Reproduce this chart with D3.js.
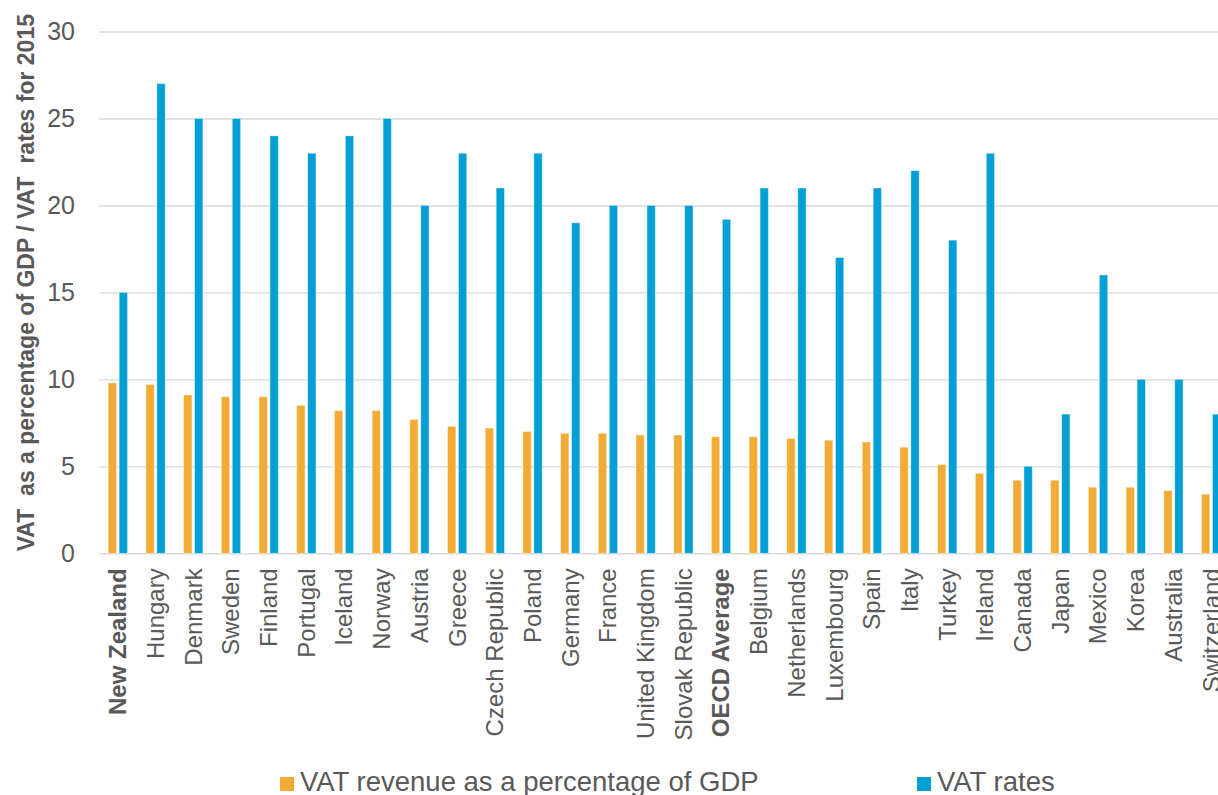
<!DOCTYPE html>
<html>
<head>
<meta charset="utf-8">
<script src="https://cdn.jsdelivr.net/npm/d3@7"></script>
<style>
  body { margin: 0; background: #fff; }
  text { font-family: Arial, "Liberation Sans", sans-serif; fill: #595959; }
</style>
</head>
<body>
<svg width="1218" height="795"></svg>
<script>
const countries = ['New Zealand', 'Hungary', 'Denmark', 'Sweden', 'Finland', 'Portugal', 'Iceland',
    'Norway', 'Austria', 'Greece', 'Czech Republic', 'Poland', 'Germany', 'France', 'United Kingdom',
    'Slovak Republic', 'OECD Average', 'Belgium', 'Netherlands', 'Luxembourg', 'Spain', 'Italy',
    'Turkey', 'Ireland', 'Canada', 'Japan', 'Mexico', 'Korea', 'Australia', 'Switzerland'];
const vatRevenue = [9.8, 9.7, 9.1, 9.0, 9.0, 8.5, 8.2, 8.2, 7.7, 7.3, 7.2, 7.0, 6.9, 6.9, 6.8,
    6.8, 6.7, 6.7, 6.6, 6.5, 6.4, 6.1, 5.1, 4.6, 4.2, 4.2, 3.8, 3.8, 3.6, 3.4];
const vatRates = [15, 27, 25, 25, 24, 23, 24, 25, 20, 23, 21, 23, 19, 20, 20,
    20, 19.2, 21, 21, 17, 21, 22, 18, 23, 5, 8, 16, 10, 10, 8];
const boldLabels = ['New Zealand', 'OECD Average'];
const yTicks = [0, 5, 10, 15, 20, 25, 30];
const seriesKeys = ['revenue', 'rate'];
const seriesNames = ['VAT revenue as a percentage of GDP', 'VAT rates'];
const colors = ['#F2AC36', '#00A0D6'];

const svg = d3.select('svg');
const width = +svg.attr('width');

const plotLeft = 99;
const plotRight = 1230; // the chart is cropped on the right edge
const plotTop = 31.5;
const plotBottom = 553.3;

const data = countries.map((c, i) => ({ country: c, revenue: vatRevenue[i], rate: vatRates[i] }));

const x0 = d3.scaleBand()
    .domain(countries)
    .range([plotLeft, plotRight])
    .paddingInner(0.49)
    .paddingOuter(0.245);

const x1 = d3.scaleBand()
    .domain(seriesKeys)
    .range([0, x0.bandwidth()])
    .paddingInner(0.245);

const y = d3.scaleLinear()
    .domain([0, 30])
    .range([plotBottom, plotTop]);

const color = d3.scaleOrdinal().domain(seriesKeys).range(colors);

// gridlines
const yAxis = d3.axisLeft(y)
    .tickValues(yTicks)
    .tickSize(-(width - plotLeft))
    .tickPadding(24);

const yAxisG = svg.append('g')
    .attr('transform', `translate(${plotLeft}, 0)`)
    .call(yAxis);
yAxisG.select('.domain').remove();
yAxisG.selectAll('.tick line')
    .attr('stroke', '#d9d9d9')
    .attr('stroke-width', 1.4);
yAxisG.selectAll('.tick text')
    .attr('font-size', 25)
    .attr('fill', '#595959')
    .style('font-family', 'Arial, "Liberation Sans", sans-serif');

// bars
const groups = svg.append('g')
    .selectAll('g')
    .data(data)
    .join('g')
    .attr('transform', (d) => `translate(${x0(d.country)}, 0)`);

groups.selectAll('rect')
    .data((d) => seriesKeys.map((k) => ({ key: k, value: d[k] })))
    .join('rect')
    .attr('x', (d) => x1(d.key))
    .attr('y', (d) => y(d.value))
    .attr('width', x1.bandwidth())
    .attr('height', (d) => y(0) - y(d.value))
    .attr('fill', (d) => color(d.key))
    .attr('stroke', '#ffffff')
    .attr('stroke-opacity', 0.45)
    .attr('stroke-width', 0.8);

// x axis labels
const xAxis = d3.axisBottom(x0).tickSize(0).tickPadding(0);
const xAxisG = svg.append('g')
    .attr('transform', `translate(0, ${plotBottom})`)
    .call(xAxis);
xAxisG.select('.domain').remove();
xAxisG.selectAll('.tick text')
    .attr('transform', 'translate(0, 15) rotate(-90)')
    .attr('x', 0)
    .attr('y', 0)
    .attr('dy', '0.35em')
    .style('text-anchor', 'end')
    .style('font-family', 'Arial, "Liberation Sans", sans-serif')
    .attr('font-size', 24)
    .attr('fill', '#595959')
    .attr('font-weight', (d) => boldLabels.includes(d) ? 'bold' : 'normal');

// y axis title
svg.append('text')
    .attr('transform', 'translate(34, 14) rotate(-90)')
    .style('text-anchor', 'end')
    .style('white-space', 'pre')
    .attr('font-size', 23)
    .attr('font-weight', 'bold')
    .text('VAT  as a percentage of GDP / VAT  rates for 2015');

// legend (cut at the bottom edge, as in the original)
const legendX = [280, 917];
const legend = svg.append('g')
    .selectAll('g')
    .data(seriesKeys)
    .join('g')
    .attr('transform', (d, i) => `translate(${legendX[i]}, 777)`);

legend.append('rect')
    .attr('width', 14)
    .attr('height', 14)
    .attr('fill', (d) => color(d));

legend.append('text')
    .attr('x', 20)
    .attr('y', 14)
    .attr('font-size', 27.5)
    .text((d, i) => seriesNames[i]);
</script>
</body>
</html>
